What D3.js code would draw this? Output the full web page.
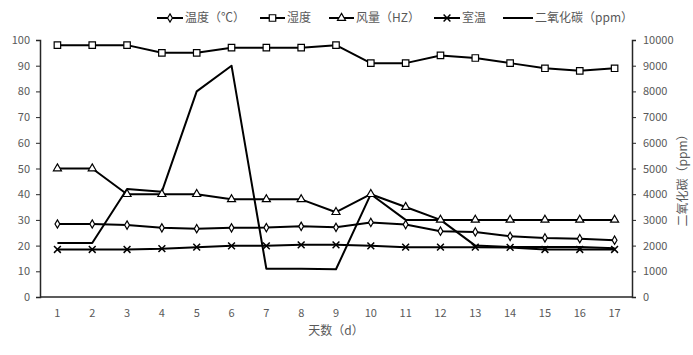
<!DOCTYPE html>
<html>
<head>
<meta charset="utf-8">
<script src="https://cdn.jsdelivr.net/npm/d3@7"></script>
<style>
  body { margin: 0; background: #fff; }
  text { font-family: "Noto Sans CJK SC", "DejaVu Sans", sans-serif; }
</style>
</head>
<body>
<div id="chart"></div>
<script>
// chart data
const days = [1, 2, 3, 4, 5, 6, 7, 8, 9, 10, 11, 12, 13, 14, 15, 16, 17];
const temperature = [28.4, 28.4, 28.0, 26.9, 26.6, 26.9, 27.0, 27.5, 27.1, 29.0, 28.2, 25.6, 25.3, 23.6, 23.0, 22.7, 22.1];
const humidity = [98, 98, 98, 95, 95, 97, 97, 97, 98, 91, 91, 94, 93, 91, 89, 88, 89];
const airflow = [50, 50, 40, 40, 40, 38, 38, 38, 33, 40, 35, 30, 30, 30, 30, 30, 30];
const roomTemp = [18.5, 18.5, 18.5, 18.8, 19.4, 19.9, 19.9, 20.3, 20.3, 19.9, 19.4, 19.4, 19.4, 19.3, 18.5, 18.5, 18.5];
const co2 = [2100, 2100, 4200, 4100, 8000, 9000, 1100, 1100, 1080, 4000, 3000, 3000, 2000, 1950, 1950, 1950, 1900];
const leftTicks = [0, 10, 20, 30, 40, 50, 60, 70, 80, 90, 100];
const rightTicks = [0, 1000, 2000, 3000, 4000, 5000, 6000, 7000, 8000, 9000, 10000];

const W = 693, H = 355;
const margin = { top: 40, right: 61, bottom: 58, left: 40 };
const innerW = W - margin.left - margin.right;
const innerH = H - margin.top - margin.bottom;
const labelColor = "#595959";

const svg = d3.select("#chart").append("svg")
  .attr("width", W).attr("height", H);

const g = svg.append("g")
  .attr("transform", `translate(${margin.left},${margin.top})`);

const x = d3.scaleBand().domain(days).range([0, innerW]);
const xc = (d) => x(d) + x.bandwidth() / 2;
const yL = d3.scaleLinear().domain([0, 100]).range([innerH, 0]);
const yR = d3.scaleLinear().domain([0, 10000]).range([innerH, 0]);

// axes
const leftAxis = g.append("g").call(d3.axisLeft(yL).tickValues(leftTicks).tickSize(4).tickPadding(6));
const rightAxis = g.append("g").attr("transform", `translate(${innerW},0)`)
  .call(d3.axisRight(yR).tickValues(rightTicks).tickFormat(d3.format("d")).tickSize(4).tickPadding(7));
const bottomAxis = g.append("g").attr("transform", `translate(0,${innerH})`)
  .call(d3.axisBottom(x).tickSize(0).tickPadding(12));

[leftAxis, rightAxis, bottomAxis].forEach((a) => {
  a.select(".domain").attr("stroke", "#262626").attr("stroke-width", 1.5);
  a.selectAll(".tick line").attr("stroke", "#262626").attr("stroke-width", 1);
  a.selectAll(".tick text").attr("fill", labelColor).style("font-size", "11px");
});
bottomAxis.select(".domain").attr("d", `M0,0H${innerW}`);

// axis titles
g.append("text")
  .attr("x", innerW / 2).attr("y", innerH + 38)
  .attr("text-anchor", "middle").attr("fill", labelColor)
  .style("font-size", "12px").text("天数（d）");

g.append("text")
  .attr("transform", `translate(${innerW + 55},${innerH / 2 + 9}) rotate(-90)`)
  .attr("text-anchor", "middle").attr("fill", labelColor)
  .style("font-size", "12px").text("二氧化碳（ppm）");

// series
const series = [
  { name: "温度（℃）", values: temperature, y: yL, marker: "diamond" },
  { name: "湿度", values: humidity, y: yL, marker: "square" },
  { name: "风量（HZ）", values: airflow, y: yL, marker: "triangle" },
  { name: "室温", values: roomTemp, y: yL, marker: "cross" },
  { name: "二氧化碳（ppm）", values: co2, y: yR, marker: "none" },
];

const symbols = {
  diamond: d3.symbol().type(d3.symbolDiamond).size(20),
  square: d3.symbol().type(d3.symbolSquare).size(42),
  triangle: d3.symbol().type(d3.symbolTriangle).size(28),
  cross: d3.symbol().type(d3.symbolTimes).size(32),
};

function drawMarker(sel, type) {
  if (type === "none") return;
  sel.append("path")
    .attr("d", symbols[type]())
    .attr("fill", type === "cross" ? "none" : "#fff")
    .attr("stroke", "#000")
    .attr("stroke-width", type === "cross" ? 1.5 : 1.2);
}

series.forEach((s) => {
  const line = d3.line().x((d, i) => xc(days[i])).y((d) => s.y(d));
  g.append("path").datum(s.values)
    .attr("d", line).attr("fill", "none")
    .attr("stroke", "#000").attr("stroke-width", 2)
    .attr("stroke-linejoin", "round");
});

series.forEach((s) => {
  if (s.marker === "none") return;
  s.values.forEach((v, i) => {
    const m = g.append("g").attr("transform", `translate(${xc(days[i])},${s.y(v)})`);
    drawMarker(m, s.marker);
  });
});

// legend
const legendItems = [
  { x: 157, w: 26 },
  { x: 260, w: 25 },
  { x: 329, w: 25 },
  { x: 434, w: 26 },
  { x: 503, w: 30 },
];
const legendY = 18;
series.forEach((s, i) => {
  const it = legendItems[i];
  const lg = svg.append("g");
  lg.append("line")
    .attr("x1", it.x).attr("x2", it.x + it.w)
    .attr("y1", legendY).attr("y2", legendY)
    .attr("stroke", "#000").attr("stroke-width", 2);
  const m = lg.append("g").attr("transform", `translate(${it.x + it.w / 2},${legendY})`);
  drawMarker(m, s.marker);
  lg.append("text")
    .attr("x", it.x + it.w + 2).attr("y", legendY + 4)
    .attr("fill", labelColor).style("font-size", "12px")
    .text(s.name);
});
</script>
</body>
</html>
